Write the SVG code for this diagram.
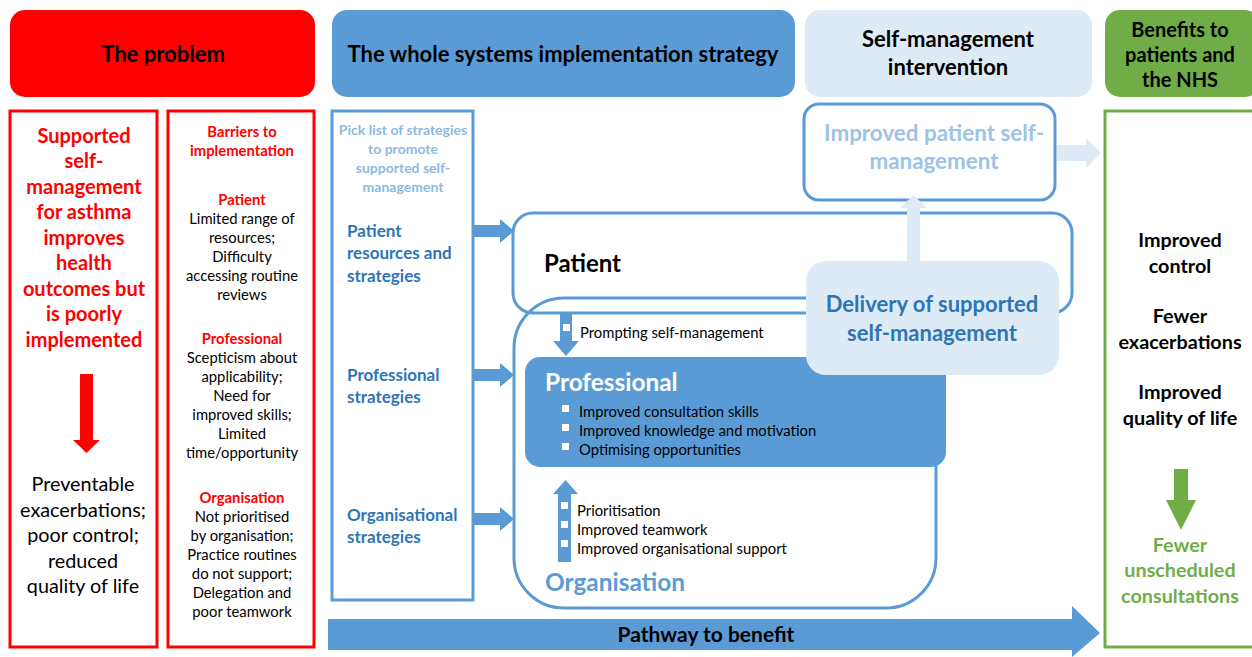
<svg xmlns="http://www.w3.org/2000/svg" width="1252" height="657" viewBox="0 0 1252 657">
<style>
text{font-family:Lato,"Open Sans","Liberation Sans",sans-serif}
.b{font-weight:bold}
.c{text-anchor:middle}
.hd{font-size:22px;font-weight:bold;fill:#000}
.red{fill:#FF0000}
.bl{fill:#2E75B6}
.lb{fill:#9DC3E6}
.s14{font-size:14.8px}
.rbox{fill:#fff;stroke:#FF0000;stroke-width:3}
.bbox{fill:none;stroke:#5B9BD5;stroke-width:3}
.sq{fill:#fff}
</style>
<rect width="1252" height="657" fill="#fff"/>

<g id="hdr-problem">
<rect x="10" y="10" width="305" height="87" rx="15" fill="#FF0000"/>
<text class="hd c" x="163" y="62">The problem</text>
</g>
<g id="hdr-strategy">
<rect x="332" y="10" width="463" height="87" rx="15" fill="#5B9BD5"/>
<text class="hd c" x="563" y="62">The whole systems implementation strategy</text>
</g>
<g id="hdr-intervention">
<rect x="805" y="10" width="287" height="87" rx="15" fill="#DEEBF7"/>
<text class="hd c" x="948" y="47">Self-management</text>
<text class="hd c" x="948" y="75">intervention</text>
</g>
<g id="hdr-benefits">
<rect x="1105" y="10" width="155" height="87" rx="15" fill="#70AD47"/>
<text class="c b" style="font-size:20px" x="1180" y="37">Benefits to</text>
<text class="c b" style="font-size:20px" x="1180" y="62">patients and</text>
<text class="c b" style="font-size:20px" x="1180" y="87">the NHS</text>
</g>

<g id="problem">
<rect class="rbox" x="10" y="111" width="147" height="536"/>
<g class="b red c" style="font-size:20px">
<text x="84" y="143">Supported</text>
<text x="84" y="168">self-</text>
<text x="84" y="194">management</text>
<text x="84" y="219">for asthma</text>
<text x="84" y="245">improves</text>
<text x="84" y="270">health</text>
<text x="84" y="296">outcomes but</text>
<text x="84" y="321">is poorly</text>
<text x="84" y="347">implemented</text>
</g>
<path d="M80,374 H93 V440 H100 L86.5,453 L73,440 H80 Z" fill="#FF0000"/>
<g class="c" style="font-size:19.8px">
<text x="83" y="491">Preventable</text>
<text x="83" y="517">exacerbations;</text>
<text x="83" y="542">poor control;</text>
<text x="83" y="568">reduced</text>
<text x="83" y="593">quality of life</text>
</g>
</g>

<g id="barriers">
<rect class="rbox" x="168" y="111" width="146" height="536"/>
<g class="c s14">
<text class="b red" x="242" y="137">Barriers to</text>
<text class="b red" x="242" y="156">implementation</text>
<text class="b red" x="242" y="205">Patient</text>
<text x="242" y="224">Limited range of</text>
<text x="242" y="243">resources;</text>
<text x="242" y="262">Difficulty</text>
<text x="242" y="281">accessing routine</text>
<text x="242" y="300">reviews</text>
<text class="b red" x="242" y="344">Professional</text>
<text x="242" y="363">Scepticism about</text>
<text x="242" y="382">applicability;</text>
<text x="242" y="401">Need for</text>
<text x="242" y="420">improved skills;</text>
<text x="242" y="439">Limited</text>
<text x="242" y="458">time/opportunity</text>
<text class="b red" x="242" y="503">Organisation</text>
<text x="242" y="522">Not prioritised</text>
<text x="242" y="541">by organisation;</text>
<text x="242" y="560">Practice routines</text>
<text x="242" y="579">do not support;</text>
<text x="242" y="598">Delegation and</text>
<text x="242" y="617">poor teamwork</text>
</g>
</g>

<g id="picklist">
<rect x="332" y="111" width="141" height="489" fill="#fff" stroke="#5B9BD5" stroke-width="3"/>
<g class="c b" style="font-size:14px;fill:#8DB9E2">
<text x="403" y="135">Pick list of strategies</text>
<text x="403" y="154">to promote</text>
<text x="403" y="173">supported self-</text>
<text x="403" y="192">management</text>
</g>
<g class="b bl" style="font-size:17px">
<text x="347" y="237">Patient</text>
<text x="347" y="259">resources and</text>
<text x="347" y="282">strategies</text>
<text x="347" y="381">Professional</text>
<text x="347" y="403">strategies</text>
<text x="347" y="521">Organisational</text>
<text x="347" y="543">strategies</text>
</g>
</g>

<g id="organisation">
<rect x="514" y="298" width="422" height="310" rx="50" fill="#fff"/>
</g>
<g id="patient">
<rect x="513" y="213" width="559" height="100" rx="20" fill="#fff"/>
<rect class="bbox" x="513" y="213" width="559" height="100" rx="20"/>
<text class="b" style="font-size:24px" x="544" y="272">Patient</text>
</g>
<g id="organisation-outline">
<rect class="bbox" x="514" y="298" width="422" height="310" rx="50"/>
<text class="b" style="font-size:24.4px;fill:#5B9BD5" x="545" y="591">Organisation</text>
</g>

<g id="professional">
<rect x="525" y="357" width="421" height="110" rx="15" fill="#5B9BD5"/>
<text class="b" style="font-size:24.4px;fill:#fff" x="545" y="391">Professional</text>
<rect class="sq" x="562" y="405" width="7" height="7"/>
<rect class="sq" x="562" y="424" width="7" height="7"/>
<rect class="sq" x="562" y="443" width="7" height="7"/>
<g class="s14">
<text x="579" y="417">Improved consultation skills</text>
<text x="579" y="436">Improved knowledge and motivation</text>
<text x="579" y="455">Optimising opportunities</text>
</g>
</g>

<g id="delivery">
<rect x="806" y="261" width="253" height="114" rx="20" fill="#DEEBF7"/>
<text class="c b bl" style="font-size:22px" x="932" y="312">Delivery of supported</text>
<text class="c b bl" style="font-size:22px" x="932" y="341">self-management</text>
</g>

<g id="improved">
<rect x="804" y="104" width="251" height="96" rx="15" fill="#fff" stroke="#5B9BD5" stroke-width="3"/>
<text class="c b lb" style="font-size:22.4px" x="934" y="141">Improved patient self-</text>
<text class="c b lb" style="font-size:22.4px" x="934" y="169">management</text>
</g>

<g id="benefits">
<rect x="1105" y="111" width="160" height="536" fill="#fff" stroke="#70AD47" stroke-width="3"/>
<g class="c b" style="font-size:19.8px">
<text x="1180" y="247">Improved</text>
<text x="1180" y="273">control</text>
<text x="1180" y="323">Fewer</text>
<text x="1180" y="349">exacerbations</text>
<text x="1180" y="399">Improved</text>
<text x="1180" y="425">quality of life</text>
</g>
<path d="M1174,469 H1188 V500 H1196 L1181,530 L1166,500 H1174 Z" fill="#70AD47"/>
<g class="c b" style="font-size:19.8px;fill:#70AD47">
<text x="1180" y="552">Fewer</text>
<text x="1180" y="577">unscheduled</text>
<text x="1180" y="603">consultations</text>
</g>
</g>

<g id="connectors">
<path d="M473,225 H500 V219 L514,231 L500,243 V237 H473 Z" fill="#5B9BD5"/>
<path d="M473,369 H500 V363 L514,375 L500,387 V381 H473 Z" fill="#5B9BD5"/>
<path d="M473,513 H500 V507 L514,519 L500,531 V525 H473 Z" fill="#5B9BD5"/>
<path d="M560,314 H572 V341 H579 L566,356 L553,341 H560 Z" fill="#5B9BD5"/>
<rect class="sq" x="563" y="324" width="7" height="7"/>
<text class="s14" x="580" y="338">Prompting self-management</text>
<path d="M558,562 H571 V494 H578 L565.5,480 L553,494 H558 Z" fill="#5B9BD5"/>
<rect class="sq" x="561" y="502" width="7" height="7"/>
<rect class="sq" x="561" y="521" width="7" height="7"/>
<rect class="sq" x="561" y="540" width="7" height="7"/>
<g class="s14">
<text x="577" y="516">Prioritisation</text>
<text x="577" y="535">Improved teamwork</text>
<text x="577" y="554">Improved organisational support</text>
</g>
<path d="M907,261 H920 V208 H927 L913.5,195 L900,208 H907 Z" fill="#DEEBF7"/>
<path d="M1057,145 H1086 V138 L1101,153 L1086,168 V161 H1057 Z" fill="#DEEBF7"/>
<path d="M328,619 H1072 V606 L1100,633 L1072,657 V650 H328 Z" fill="#5B9BD5"/>
<text class="c b" style="font-size:21px" x="706" y="642">Pathway to benefit</text>
</g>
</svg>
